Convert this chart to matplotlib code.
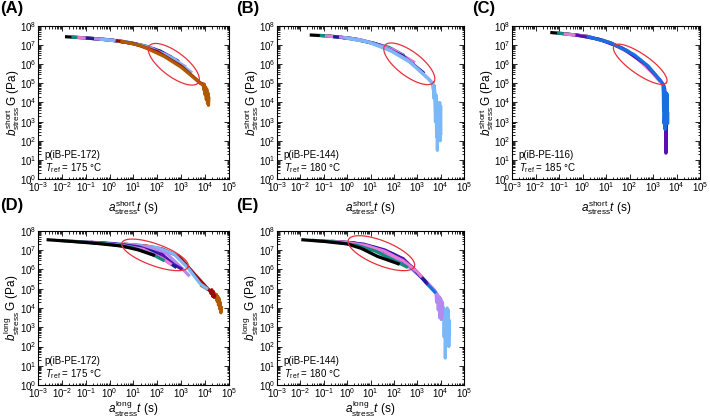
import numpy as np
import matplotlib
matplotlib.use('Agg')
import matplotlib.pyplot as plt
from matplotlib.ticker import LogLocator, NullFormatter, LogFormatterMathtext

plt.rcParams['font.family'] = ['Liberation Sans', 'DejaVu Sans']
plt.rcParams['mathtext.fontset'] = 'custom'
plt.rcParams['mathtext.rm'] = 'Liberation Sans'
plt.rcParams['mathtext.it'] = 'Liberation Sans:italic'
plt.rcParams['mathtext.bf'] = 'Liberation Sans:bold'

# ---- colours ----
BLACK = '#000000'
TEAL = '#138a80'
PINK = '#e87ad8'
NAVY = '#1c1c9c'
PURPLE = '#5a10b0'
VIOLET = '#b58af0'
LBLUE = '#7ab8f8'
BLUE = '#1a6fe0'
DRED = '#9a0a0a'
BROWN = '#b05a00'

# ---- Panel A: log10(t) and log10(G) per segment (drawn in list order) ----
A_colors = [BLACK, TEAL, PINK, NAVY, VIOLET, LBLUE, DRED, BROWN]
A_logt = [
    [-1.87, -1.0, 0.0, 1.0, 1.9],
    [-1.6, -0.5, 0.5, 1.5, 2.3],
    [-1.35, -0.2, 0.8, 1.8, 2.6],
    [-1.0, 0.1, 1.1, 2.1, 2.9],
    [-0.65, 0.4, 1.4, 2.4, 3.2],
    [-0.4, 0.7, 1.7, 2.7, 3.45],
    [0.25, 1.0, 2.0, 3.0, 3.8, 3.95, 3.98, 4.02],
    [0.45, 1.3, 2.3, 3.0, 3.5, 3.8, 3.92, 3.95, 3.97, 4.0, 4.02, 4.05, 4.07, 4.1, 4.12, 4.14, 4.16],
]
A_logG = [
    [7.44, 7.38, 7.27, 7.09, 6.79],
    [7.42, 7.33, 7.21, 6.96, 6.55],
    [7.40, 7.31, 7.14, 6.83, 6.38],
    [7.37, 7.26, 7.06, 6.70, 6.14],
    [7.34, 7.22, 6.96, 6.48, 5.85],
    [7.31, 7.17, 6.86, 6.27, 5.55],
    [7.24, 7.08, 6.66, 5.90, 5.02, 4.95, 4.6, 4.85],
    [7.21, 6.98, 6.40, 5.84, 5.32, 5.00, 4.90, 4.65, 4.95, 4.4, 4.8, 4.15, 4.7, 3.95, 4.5, 3.85, 4.3],
]

# ---- Panel B ----
B_colors = [BLACK, TEAL, PINK, NAVY, VIOLET, LBLUE]
B_logt = [
    [-1.6, -0.8, 0.2, 1.2, 2.2],
    [-1.17, -0.2, 0.8, 1.8, 2.45],
    [-0.95, 0.0, 1.0, 2.0, 2.9],
    [-0.6, 0.4, 1.4, 2.4, 3.3],
    [-0.35, 0.6, 1.6, 2.6, 3.5, 3.65, 3.7, 3.72, 3.75],
    [-0.11, 0.9, 1.9, 2.7, 3.3, 3.6, 3.68, 3.72, 3.74, 3.78, 3.80, 3.83, 3.85, 3.86, 3.88, 3.9,
     3.93, 3.96, 3.98, 4.0, 4.01],
]
B_logG = [
    [7.53, 7.48, 7.35, 7.08, 6.55],
    [7.51, 7.40, 7.20, 6.88, 6.45],
    [7.49, 7.38, 7.14, 6.74, 6.08],
    [7.45, 7.31, 7.00, 6.42, 5.52],
    [7.43, 7.28, 6.90, 6.22, 5.22, 5.0, 4.6, 4.9, 4.4],
    [7.39, 7.16, 6.68, 6.10, 5.44, 5.08, 4.95, 4.2, 4.7, 3.0, 4.4, 2.2, 4.0, 1.5, 3.2, 3.6,
     2.5, 4.0, 2.0, 3.8, 2.3],
]

# ---- Panel C ----
C_colors = [BLACK, TEAL, PINK, PURPLE, BLUE]
C_logt = [
    [-1.37, -0.8, 0.2, 1.2, 2.0],
    [-1.08, -0.1, 0.9, 1.9, 2.6],
    [-0.8, 0.2, 1.2, 2.2, 3.0, 3.3],
    [-0.3, 0.7, 1.7, 2.7, 3.3, 3.45, 3.5, 3.52, 3.53, 3.55, 3.57, 3.6],
    [0.19, 1.2, 2.2, 2.8, 3.2, 3.42, 3.44, 3.45, 3.46, 3.47, 3.48, 3.5, 3.51, 3.53, 3.55, 3.56,
     3.58, 3.6, 3.62, 3.63],
]
C_logG = [
    [7.66, 7.60, 7.46, 7.12, 6.63],
    [7.63, 7.50, 7.25, 6.72, 6.06],
    [7.59, 7.46, 7.12, 6.46, 5.52, 5.08],
    [7.53, 7.31, 6.84, 5.98, 5.17, 4.92, 4.7, 3.0, 4.5, 1.35, 4.4, 3.5],
    [7.46, 7.12, 6.50, 5.90, 5.32, 4.97, 4.5, 3.6, 4.8, 2.9, 3.2, 4.6, 2.6, 4.4, 3.0, 4.5,
     3.2, 4.45, 2.9, 3.5],
]

# ---- Panel D (temperature order; drawn in reverse) ----
D_colors = [BLACK, TEAL, PINK, NAVY, PURPLE, VIOLET, LBLUE, DRED, BROWN]
D_logt = [
    [-2.64, -1.5, -0.5, 0.5, 1.2, 1.9],
    [-2.0, -1.0, 0.0, 1.0, 1.8, 2.3],
    [-1.6, -0.6, 0.4, 1.4, 2.2, 2.6],
    [-1.2, -0.2, 0.8, 1.8, 2.5, 2.8],
    [-0.8, 0.2, 1.2, 2.2, 2.7, 3.05],
    [-0.4, 0.6, 1.6, 2.4, 3.0, 3.35],
    [0.0, 1.0, 2.0, 2.7, 3.3, 3.8, 4.12],
    [0.6, 1.5, 2.2, 2.9, 3.6, 4.12, 4.2, 4.25, 4.28, 4.32, 4.35, 4.38, 4.41],
    [3.8, 4.2, 4.42, 4.45, 4.48, 4.5, 4.53, 4.56, 4.58, 4.61, 4.63, 4.66, 4.69],
]
D_logG = [
    [7.55, 7.45, 7.35, 7.22, 7.02, 6.72],
    [7.50, 7.42, 7.32, 7.12, 6.78, 6.45],
    [7.47, 7.39, 7.28, 7.05, 6.58, 6.25],
    [7.44, 7.36, 7.24, 6.92, 6.35, 6.10],
    [7.42, 7.33, 7.18, 6.78, 6.25, 6.00],
    [7.40, 7.30, 7.17, 6.82, 6.10, 5.65],
    [7.36, 7.28, 7.14, 6.80, 6.05, 5.25, 4.97],
    [7.32, 7.23, 7.07, 6.68, 5.70, 4.99, 4.9, 4.75, 4.95, 4.6, 4.85, 4.55, 4.7],
    [5.2, 4.9, 4.72, 4.55, 4.7, 4.35, 4.6, 4.15, 4.5, 3.95, 4.3, 3.75, 4.1],
]

# ---- Panel E (temperature order; drawn in reverse) ----
E_colors = [BLACK, TEAL, PINK, NAVY, PURPLE, BLUE, VIOLET, LBLUE]
E_logt = [
    [-1.96, -1.0, 0.0, 0.6, 1.3, 2.0, 2.25],
    [-1.5, -0.5, 0.4, 1.2, 2.0, 2.6],
    [-1.1, -0.1, 0.8, 1.6, 2.4, 3.0, 3.2],
    [-0.7, 0.3, 1.2, 2.0, 2.8, 3.3, 3.4],
    [-0.3, 0.7, 1.6, 2.4, 3.0, 3.45],
    [0.1, 1.0, 2.0, 2.8, 3.5, 3.8],
    [0.5, 1.4, 2.4, 3.2, 3.7, 3.8, 3.83, 3.86, 3.9, 3.93, 3.96, 4.0, 4.03, 4.06, 4.08],
    [0.9, 1.8, 2.6, 3.3, 3.8, 4.08, 4.1, 4.13, 4.15, 4.18, 4.2, 4.23, 4.25, 4.28, 4.3, 4.33, 4.35, 4.38],
]
E_logG = [
    [7.55, 7.46, 7.33, 7.10, 6.68, 6.38, 6.27],
    [7.52, 7.43, 7.26, 6.96, 6.48, 6.10],
    [7.50, 7.42, 7.25, 6.95, 6.45, 5.88, 5.60],
    [7.47, 7.38, 7.14, 6.78, 6.08, 5.45, 5.30],
    [7.44, 7.32, 7.02, 6.56, 5.85, 5.22],
    [7.40, 7.18, 6.78, 6.10, 5.15, 4.77],
    [7.30, 6.92, 6.38, 5.60, 4.98, 4.80, 4.3, 4.7, 3.9, 4.6, 3.5, 4.5, 3.4, 4.3, 3.6],
    [7.22, 6.72, 6.20, 5.45, 4.80, 4.28, 3.8, 4.0, 2.5, 3.9, 1.4, 3.7, 2.2, 4.0, 2.7, 3.9, 2.0, 3.4],
]

panel_letters = ['(A)', '(B)', '(C)', '(D)', '(E)']
samples = ['p(iB-PE-172)', 'p(iB-PE-144)', 'p(iB-PE-116)', 'p(iB-PE-172)', 'p(iB-PE-144)']
trefs = [175, 180, 185, 175, 180]
kinds = ['short', 'short', 'short', 'long', 'long']
reverse_order = [False, False, False, True, True]
# ellipse: centre (axes fraction), semi-axes (px), angle (deg)
ell_cx = [0.711, 0.7075, 0.682, 0.6126, 0.558]
ell_cy = [0.750, 0.753, 0.750, 0.845, 0.856]
ell_a = [30.6, 30.6, 32.0, 35.2, 35.6]
ell_b = [12.2, 12.2, 10.0, 10.9, 12.2]
ell_ang = [-37, -37, -35, -20, -22]

W, H = 710, 419
fig = plt.figure(figsize=(W / 100, H / 100), dpi=100)

# axes rectangles in pixels: left, top, right, bottom
rects = [(38, 26, 229, 179), (277, 26, 464, 179), (512, 26, 700, 179),
         (38, 231, 229, 385), (277, 231, 464, 385)]
xlabel_gap = [19, 19, 19, 14, 14]
letter_pos = [(0, 1), (236, 1), (472, 1), (0, 198), (236, 198)]

data = [(A_logt, A_logG, A_colors), (B_logt, B_logG, B_colors), (C_logt, C_logG, C_colors),
        (D_logt, D_logG, D_colors), (E_logt, E_logG, E_colors)]

for i, (l, t, r, b) in enumerate(rects):
    wpx, hpx = (r - l), (b - t)
    ax = fig.add_axes([l / W, 1 - b / H, wpx / W, hpx / H])
    logt, logG, cols = data[i]
    order = list(range(len(cols)))
    if reverse_order[i]:
        order = order[::-1]
    for j in order:
        ax.plot(10 ** np.array(logt[j]), 10 ** np.array(logG[j]), color=cols[j], lw=2.3,
                solid_joinstyle='round', solid_capstyle='butt')
    ax.set_xscale('log')
    ax.set_yscale('log')
    ax.set_xlim(1e-3, 1e5)
    ax.set_ylim(1e0, 1e8)
    for axis in (ax.xaxis, ax.yaxis):
        axis.set_major_locator(LogLocator(base=10, numticks=20))
        axis.set_minor_locator(LogLocator(base=10, subs=np.arange(2, 10), numticks=200))
        axis.set_minor_formatter(NullFormatter())
        axis.set_major_formatter(LogFormatterMathtext())
    ax.tick_params(which='both', direction='in', top=True, right=True, labelsize=7, width=0.6)
    ax.tick_params(which='major', length=3.5, pad=1)
    ax.tick_params(which='minor', length=1.8)
    for s in ax.spines.values():
        s.set_linewidth(0.8)
    k = kinds[i]
    ax.set_xlabel(r'$a^{\mathrm{%s}}_{\mathrm{stress}}t$ (s)' % k, fontsize=8.5)
    ax.xaxis.set_label_coords(0.5, -xlabel_gap[i] / hpx)
    ax.set_ylabel(r'$b^{\mathrm{%s}}_{\mathrm{stress}}\,\mathrm{G}$ (Pa)' % k, fontsize=8.5)
    ax.yaxis.set_label_coords(-16 / wpx, 0.5)
    ax.text(0.035, 0.135, samples[i], transform=ax.transAxes, fontsize=7, va='baseline')
    ax.text(0.035, 0.05, r'$T_{\mathrm{ref}}$ = %d °C' % trefs[i], transform=ax.transAxes,
            fontsize=7, va='baseline')
    # ellipse
    th = np.linspace(0, 2 * np.pi, 300)
    ang = np.deg2rad(ell_ang[i])
    dx = ell_a[i] * np.cos(th) * np.cos(ang) - ell_b[i] * np.sin(th) * np.sin(ang)
    dy = ell_a[i] * np.cos(th) * np.sin(ang) + ell_b[i] * np.sin(th) * np.cos(ang)
    ax.plot(ell_cx[i] + dx / wpx, ell_cy[i] + dy / hpx, transform=ax.transAxes,
            color='#e8303a', lw=0.9, clip_on=False)
    lx, ly = letter_pos[i]
    fig.text(lx / W, 1 - ly / H, panel_letters[i], fontsize=12, fontweight='bold',
             ha='left', va='top')

fig.savefig('out.png', dpi=100)
